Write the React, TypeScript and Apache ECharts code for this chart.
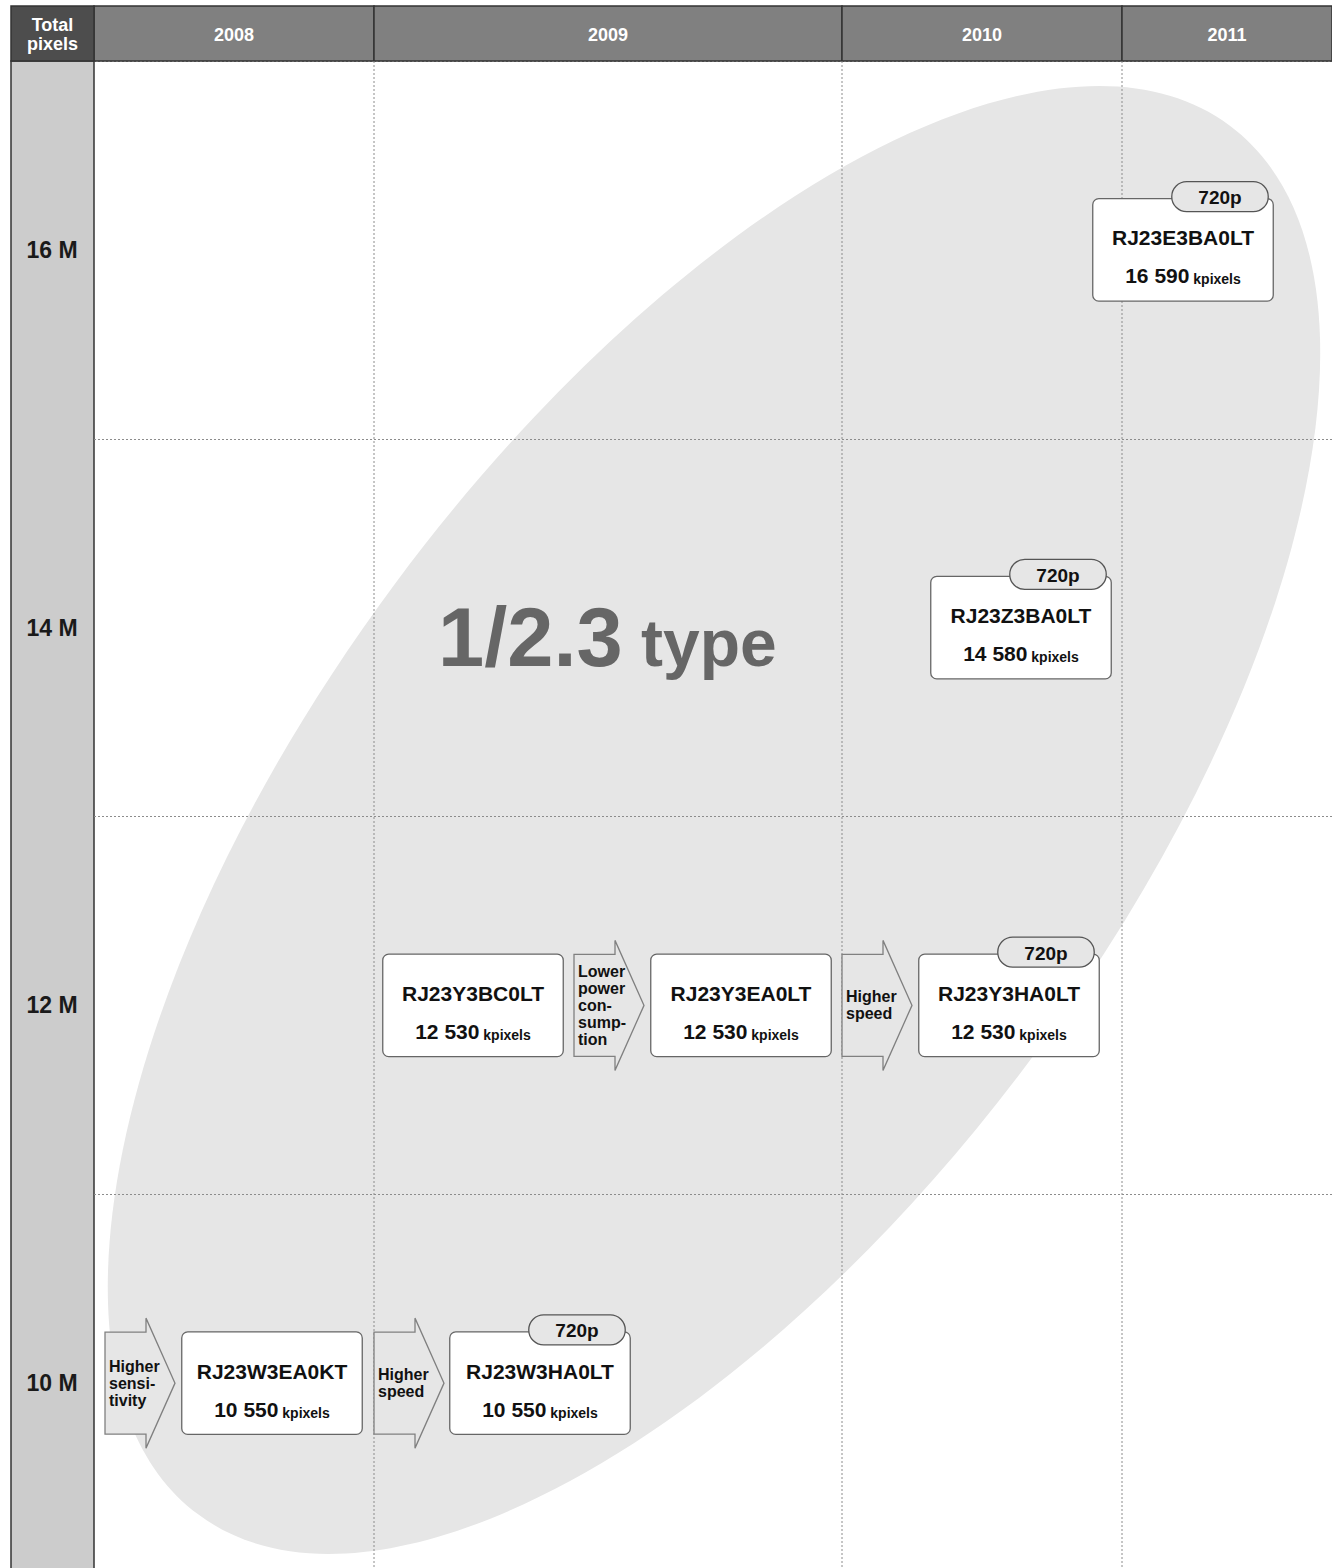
import React, { useEffect, useRef } from "react";
import * as echarts from "echarts";

const FONT = "'Liberation Sans', Arial, Helvetica, sans-serif";

// Year columns on a timeline axis (units along the roadmap)
const years = ["2008", "2009", "2010", "2011"];
const yearEdges = [0, 280, 748, 1028, 1238];

// Rows: total pixel classes (bottom to top)
const pixelClasses = ["10 M", "12 M", "14 M", "16 M"];

// Products
const productNames = ["RJ23W3EA0KT", "RJ23W3HA0LT", "RJ23Y3BC0LT", "RJ23Y3EA0LT", "RJ23Y3HA0LT", "RJ23Z3BA0LT", "RJ23E3BA0LT"];
const productClass = ["10 M", "10 M", "12 M", "12 M", "12 M", "14 M", "16 M"];
const productKpixels = [10550, 10550, 12530, 12530, 12530, 14580, 16590];
const productTimeline = [178, 446, 379, 647, 915, 927, 1089];
const product720p = [false, true, false, false, true, true, true];

// Transition arrows
const arrowLabels = [
  ["Higher", "sensi-", "tivity"],
  ["Higher", "speed"],
  ["Lower", "power", "con-", "sump-", "tion"],
  ["Higher", "speed"],
];
const arrowClass = ["10 M", "10 M", "12 M", "12 M"];
const arrowTimeline = [46, 315, 515, 783];

const sizeLabel = ["1/2.3", "type"];

function fmt(n: number) {
  return String(n).replace(/\B(?=(\d{3})+(?!\d))/g, " ");
}

export default function App() {
  const ref = useRef<HTMLDivElement>(null);
  useEffect(() => {
    if (!ref.current) return;
    const chart = echarts.init(ref.current, null, { renderer: "svg" });
    const option: any = {
      animation: false,
      grid: { left: 94, top: 61, width: 1238, height: 1511 },
      xAxis: { type: "value", min: 0, max: 1238, show: false },
      yAxis: {
        type: "category",
        data: pixelClasses,
        axisLine: { show: false },
        axisTick: { show: false },
        axisLabel: {
          interval: 0,
          margin: 42,
          align: "center",
          fontSize: 23,
          fontWeight: "bold",
          color: "#1a1a1a",
          fontFamily: FONT,
        },
        splitLine: { show: true, interval: 0, lineStyle: { color: "#8c8c8c", width: 1, type: [2, 2] } },
      },
      graphic: {
        elements: [
          {
            type: "ellipse",
            x: 714,
            y: 820,
            rotation: 0.932,
            shape: { cx: 0, cy: 0, rx: 865, ry: 397 },
            style: { fill: "#e6e6e6" },
            z: -10,
            silent: true,
          },
          {
            type: "rect",
            shape: { x: 11, y: 61, width: 83, height: 1530 },
            style: { fill: "#cccccc", stroke: "#333", lineWidth: 1.5 },
            z: -5,
            silent: true,
          },
          {
            type: "rect",
            shape: { x: 11, y: 6, width: 83, height: 55 },
            style: { fill: "#4d4d4d", stroke: "#333", lineWidth: 1.5 },
            z: 3,
            silent: true,
          },
          {
            type: "text",
            x: 52.5,
            y: 34,
            z: 4,
            style: {
              text: "Total\npixels",
              fill: "#fff",
              font: `bold 18px ${FONT}`,
              lineHeight: 19,
              align: "center",
              verticalAlign: "middle",
            },
          },
          {
            type: "text",
            x: 438,
            y: 637,
            z: 1,
            style: { text: sizeLabel[0], fill: "#666", font: `bold 83px ${FONT}`, align: "left", verticalAlign: "middle" },
          },
          {
            type: "text",
            x: 641,
            y: 643,
            z: 1,
            style: { text: sizeLabel[1], fill: "#666", font: `bold 66px ${FONT}`, align: "left", verticalAlign: "middle" },
          },
        ],
      },
      series: [
        {
          type: "custom",
          name: "years",
          z: 1,
          encode: { x: [0, 1], y: 2 },
          data: years.map((_, i) => [yearEdges[i], yearEdges[i + 1], pixelClasses[3]]),
          renderItem: (params: any, api: any) => {
            const i = params.dataIndex;
            const cs = params.coordSys;
            const xs = api.coord([api.value(0), 3])[0];
            const xe = api.coord([api.value(1), 3])[0];
            const top = cs.y - 55;
            const children: any[] = [
              {
                type: "rect",
                shape: { x: xs, y: top, width: xe - xs, height: 55 },
                style: { fill: "#808080", stroke: "#333", lineWidth: 1.5 },
              },
              {
                type: "text",
                style: {
                  x: (xs + xe) / 2,
                  y: top + 29,
                  text: years[i],
                  fill: "#fff",
                  font: `bold 18px ${FONT}`,
                  align: "center",
                  verticalAlign: "middle",
                },
              },
            ];
            if (i > 0) {
              children.push({
                type: "line",
                shape: { x1: xs, y1: cs.y, x2: xs, y2: cs.y + cs.height },
                style: { stroke: "#8c8c8c", lineWidth: 1, lineDash: [2, 2] },
              });
            }
            return { type: "group", children };
          },
        },
        {
          type: "custom",
          name: "arrows",
          z: 5,
          encode: { x: 0, y: 1 },
          data: arrowTimeline.map((x, i) => [x, arrowClass[i]]),
          renderItem: (params: any, api: any) => {
            const i = params.dataIndex;
            const p = api.coord([api.value(0), api.value(1)]);
            const l = p[0] - 35;
            const hb = l + 41;
            const tip = l + 70;
            const t = p[1] - 51;
            const b = p[1] + 51;
            return {
              type: "group",
              children: [
                {
                  type: "polygon",
                  shape: {
                    points: [
                      [l, t],
                      [hb, t],
                      [hb, t - 14],
                      [tip, p[1]],
                      [hb, b + 14],
                      [hb, b],
                      [l, b],
                    ],
                  },
                  style: { fill: "#e6e6e6", stroke: "#808080", lineWidth: 1.3 },
                },
                {
                  type: "text",
                  style: {
                    x: l + 4,
                    y: p[1],
                    text: arrowLabels[i].join("\n"),
                    fill: "#111",
                    font: `bold 16px ${FONT}`,
                    lineHeight: 17,
                    align: "left",
                    verticalAlign: "middle",
                  },
                },
              ],
            };
          },
        },
        {
          type: "custom",
          name: "products",
          z: 5,
          encode: { x: 0, y: 1 },
          data: productTimeline.map((x, i) => [x, productClass[i]]),
          renderItem: (params: any, api: any) => {
            const i = params.dataIndex;
            const p = api.coord([api.value(0), api.value(1)]);
            const w = 180.5;
            const h = 102.5;
            const x0 = p[0] - w / 2;
            const y0 = p[1] - h / 2;
            const children: any[] = [
              {
                type: "rect",
                shape: { x: x0, y: y0, width: w, height: h, r: 6 },
                style: { fill: "#fff", stroke: "#666", lineWidth: 1.3 },
              },
              {
                type: "text",
                style: {
                  x: p[0],
                  y: p[1] - 12,
                  text: productNames[i],
                  fill: "#111",
                  font: `bold 21px ${FONT}`,
                  align: "center",
                  verticalAlign: "middle",
                },
              },
              {
                type: "text",
                style: {
                  x: p[0],
                  y: p[1] + 26,
                  text: `{v|${fmt(productKpixels[i])}} {u|kpixels}`,
                  fill: "#111",
                  align: "center",
                  verticalAlign: "middle",
                  rich: {
                    v: { fontSize: 21, fontWeight: "bold", fontFamily: FONT, fill: "#111", verticalAlign: "bottom" },
                    u: { fontSize: 14, fontWeight: "bold", fontFamily: FONT, fill: "#111", verticalAlign: "bottom" },
                  },
                  font: `bold 14px ${FONT}`,
                },
              },
            ];
            if (product720p[i]) {
              const pr = x0 + w - 5;
              const pw = 96.5;
              const pt = y0 - 17;
              const ph = 30;
              children.push(
                {
                  type: "rect",
                  shape: { x: pr - pw, y: pt, width: pw, height: ph, r: ph / 2 },
                  style: { fill: "#e6e6e6", stroke: "#555", lineWidth: 1.3 },
                },
                {
                  type: "text",
                  style: {
                    x: pr - pw / 2,
                    y: pt + ph / 2 + 1,
                    text: "720p",
                    fill: "#111",
                    font: `bold 19px ${FONT}`,
                    align: "center",
                    verticalAlign: "middle",
                  },
                }
              );
            }
            return { type: "group", children };
          },
        },
      ],
    };
    chart.setOption(option);
    return () => chart.dispose();
  }, []);
  return (
    <div style={{ position: "absolute", left: 0, top: 0, width: 1332, height: 1568, overflow: "hidden" }}>
      <div ref={ref} style={{ width: 1332, height: 1590 }} />
    </div>
  );
}
